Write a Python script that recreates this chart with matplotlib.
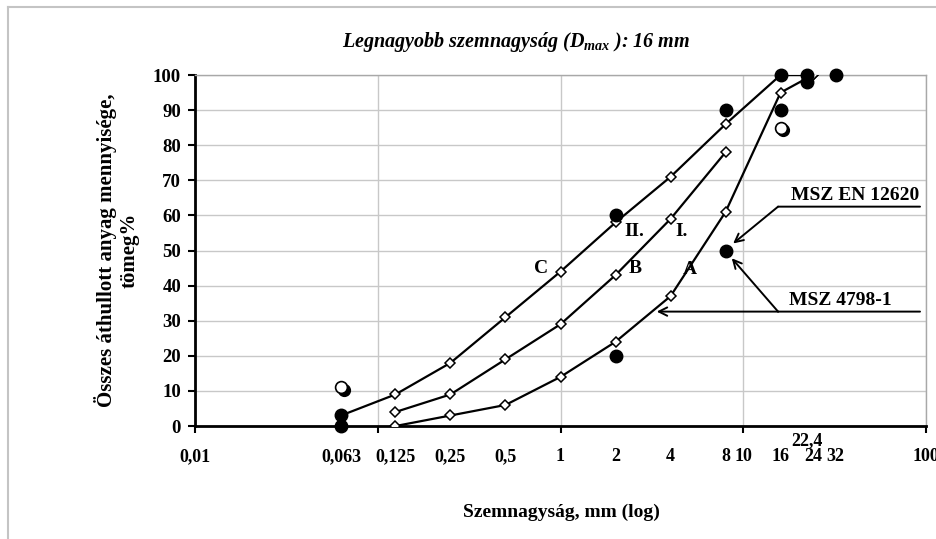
import matplotlib.pyplot as plt
from matplotlib.lines import Line2D
from matplotlib.transforms import ScaledTranslation, blended_transform_factory

plt.rcParams["font.family"] = ["Liberation Serif", "DejaVu Serif"]
plt.rcParams["font.weight"] = "bold"
plt.rcParams["mathtext.fontset"] = "custom"
plt.rcParams["mathtext.it"] = "Liberation Serif:italic:bold"
plt.rcParams["mathtext.rm"] = "Liberation Serif:italic:bold"

# Grading curves (sieve size mm, passing %)
sieve_a = [0.125, 0.25, 0.5, 1, 2, 4, 8, 16, 24]
pass_a = [0, 3, 6, 14, 24, 37, 61, 95, 100]
sieve_b = [0.125, 0.25, 0.5, 1, 2, 4, 8]
pass_b = [4, 9, 19, 29, 43, 59, 78]
sieve_c = [0.063, 0.125, 0.25, 0.5, 1, 2, 4, 8, 16, 24]
pass_c = [3, 9, 18, 31, 44, 58, 71, 86, 100, 100]

# MSZ EN 12620 limits (filled) and MSZ 4798-1 extra points (open)
limit_x = [0.063, 0.063, 2, 2, 8, 8, 16, 16, 22.4, 22.4, 32]
limit_y = [0, 3, 20, 60, 50, 90, 90, 100, 98, 100, 100]
open_x = [0.063, 16]
open_y = [11, 85]

decades = [0.01, 0.1, 1, 10, 100]
decade_lbl = ["0,01", "", "1", "10", "100"]
sieve_pos = [0.063, 0.125, 0.25, 0.5, 2, 4, 8, 16, 24, 32]
sieve_lbl = ["0,063", "0,125", "0,25", "0,5", "2", "4", "8", "16", "24", "32"]

fig = plt.figure(figsize=(9.37, 5.39), dpi=100, facecolor="white")
ax = fig.add_axes([0.2081, 0.2096, 0.7802, 0.6512])

# outer frame
frame_kw = dict(color="#c4c4c4", lw=1.5, transform=fig.transFigure)
fig.add_artist(Line2D([8 / 937, 8 / 937], [0, 1 - 7 / 539], **frame_kw))
fig.add_artist(Line2D([8 / 937, 1], [1 - 7 / 539, 1 - 7 / 539], **frame_kw))

ax.set_xscale("log")
ax.set_xlim(0.01, 100)
ax.set_ylim(0, 100)

# Ticks and grid
ax.set_yticks(range(0, 101, 10))
ax.set_xticks(decades, decade_lbl)
ax.set_xticks(sieve_pos, sieve_lbl, minor=True)
ax.grid(True, which="major", color="#c8c8c8", lw=1.0, zorder=0)
ax.set_axisbelow(True)

for s in ["top", "right"]:
    ax.spines[s].set_color("#a8a8a8")
    ax.spines[s].set_linewidth(1.0)
for s in ["left", "bottom"]:
    ax.spines[s].set_color("black")
    ax.spines[s].set_linewidth(2.0)

ax.tick_params(axis="y", which="major", direction="out", length=5, width=1.5,
               labelsize=13.5, pad=5)
ax.tick_params(axis="x", which="major", direction="out", length=5, width=1.5,
               labelsize=13, pad=11)
ax.tick_params(axis="x", which="minor", length=0, labelsize=13, pad=16)

trans = blended_transform_factory(ax.transData, ax.transAxes)
ax.text(22.4, -0.043, "22,4", transform=trans, ha="center", va="center",
        fontsize=13, fontweight="bold")

# curves
line_kw = dict(color="black", lw=1.6, marker="D", ms=4.6, mfc="white",
               mec="black", mew=1.1, zorder=3)
ax.plot(sieve_a, pass_a, **line_kw)
ax.plot(sieve_b, pass_b, **line_kw)
ax.plot(sieve_c, pass_c, **line_kw)

ax.plot(limit_x, limit_y, ls="none", marker="o", ms=9, color="black", zorder=5,
        clip_on=False)

shadow = ax.transData + ScaledTranslation(2 / 72, -2 / 72, fig.dpi_scale_trans)
ax.plot(open_x, open_y, ls="none", marker="o", ms=8.5, color="black", zorder=5,
        transform=shadow)
ax.plot(open_x, open_y, ls="none", marker="o", ms=8.5, mfc="white", mec="black",
        mew=1.2, zorder=6)

# curve names
lbl_kw = dict(fontsize=14, fontweight="bold", ha="center", va="center")
ax.text(0.78, 45.0, "C", **lbl_kw)
ax.text(2.55, 45.0, "B", **lbl_kw)
ax.text(5.1, 44.7, "A", **lbl_kw)
ax.text(2.55, 55.4, "II.", **lbl_kw)
ax.text(4.6, 55.4, "I.", **lbl_kw)

# standard annotations
arrow = dict(arrowstyle="->,head_length=0.6,head_width=0.3", lw=1.4, color="black",
             shrinkA=0, shrinkB=0)
plain = dict(arrowstyle="-", lw=1.4, color="black", shrinkA=0, shrinkB=0)

ax.text(41, 65.8, "MSZ EN 12620", fontsize=14, fontweight="bold", ha="center", va="center")
ax.annotate("", xy=(92.7, 62.5), xytext=(15.5, 62.5), arrowprops=plain)
ax.annotate("", xy=(8.8, 52.0), xytext=(15.5, 62.5), arrowprops=arrow)

ax.text(34, 35.9, "MSZ 4798-1", fontsize=14, fontweight="bold", ha="center", va="center")
ax.annotate("", xy=(92.7, 32.6), xytext=(15.5, 32.6), arrowprops=plain)
ax.annotate("", xy=(3.36, 32.6), xytext=(15.5, 32.6), arrowprops=arrow)
ax.annotate("", xy=(8.65, 47.8), xytext=(15.5, 32.6), arrowprops=arrow)

# titles
fig.text(0.551, 1 - 42 / 539, r"Legnagyobb szemnagyság (D$_{max}$ ): 16 mm",
         fontsize=14.5, fontweight="bold", style="italic", ha="center", va="center")
fig.text(117 / 937, 1 - 250 / 539, "Összes áthullott anyag mennyisége,\ntömeg%",
         rotation=90, fontsize=15, fontweight="bold", ha="center", va="center",
         linespacing=1.2, multialignment="center")
fig.text(561 / 937, 1 - 512 / 539, "Szemnagyság, mm (log)", fontsize=14,
         fontweight="bold", ha="center", va="center")

fig.savefig("out.png", dpi=100, facecolor="white")
